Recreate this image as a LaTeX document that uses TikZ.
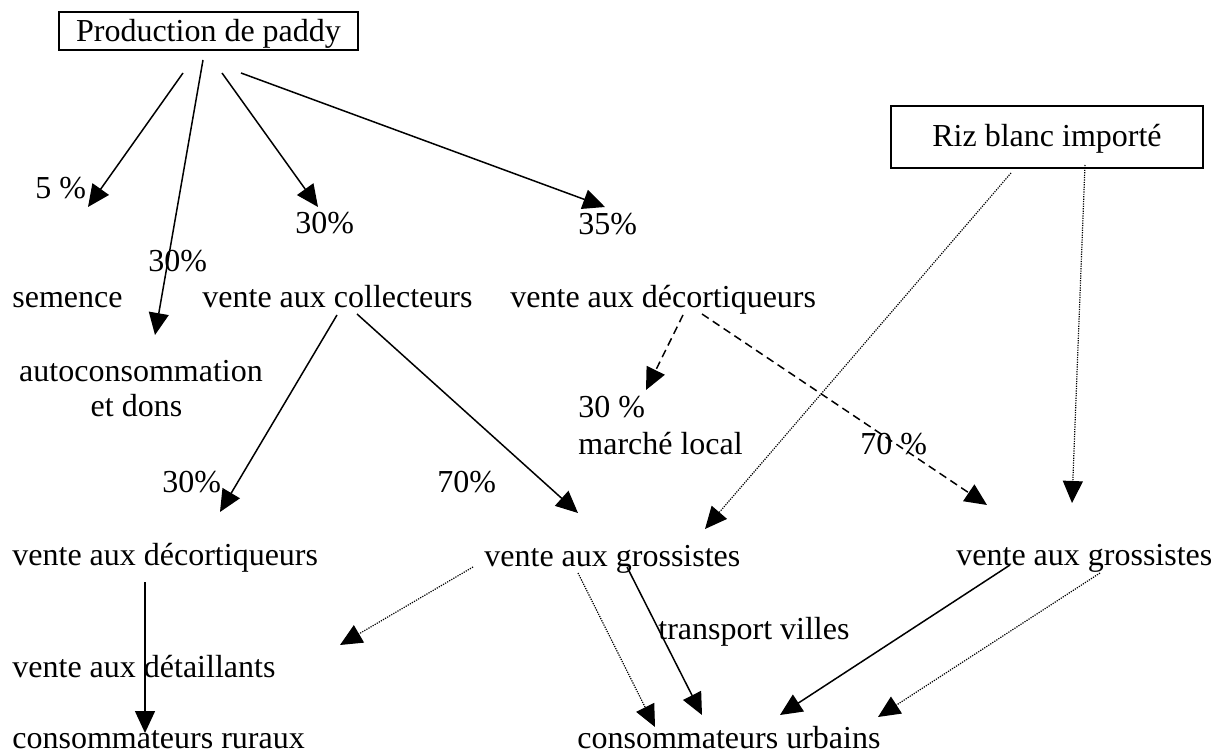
\documentclass[tikz,border=0pt]{standalone}
\usepackage{fontspec}
\setmainfont{Liberation Serif}
\usetikzlibrary{arrows.meta}

\begin{document}
\begin{tikzpicture}[x=0.5pt,y=-0.5pt,
  txt/.style={anchor=base west,inner sep=0,font=\fontsize{16}{19}\selectfont},
  box/.style={draw,line width=0.75pt,inner sep=0,font=\fontsize{16}{19}\selectfont,text height=11pt},
  flow/.style={-{Triangle[length=11pt,width=10pt]},line width=0.75pt},
  flowdash/.style={flow,dash pattern=on 4pt off 2.5pt},
  flowdot/.style={flow,line width=0.6pt,dash pattern=on 0.6pt off 0.6pt}]
\useasboundingbox (0,0) rectangle (1221,753);
\node[box,minimum width=149.5pt,minimum height=19pt,text depth=0pt] (paddy) at (208.5,31) {Production de paddy};
\node[box,minimum width=156pt,minimum height=31pt,text depth=1pt] (riz) at (1047,137) {Riz blanc importé};
\node[txt] (p5) at (35,199) {5 \%};
\node[txt] (p30col) at (295,234) {30\%};
\node[txt] (p35) at (578,235) {35\%};
\node[txt] (p30auto) at (148,272) {30\%};
\node[txt] (semence) at (12,308) {semence};
\node[txt] (collect) at (202,308) {vente aux collecteurs};
\node[txt] (decort) at (510,308) {vente aux décortiqueurs};
\node[txt,anchor=base] (autocons) at (141,382) {autoconsommation};
\node[txt,anchor=base] (dons) at (136.5,417) {et dons};
\node[txt] (p30loc) at (578,418) {30 \%};
\node[txt] (marche) at (578,455) {marché local};
\node[txt] (p70dec) at (860,455) {70 \%};
\node[txt] (p30dec) at (162,493) {30\%};
\node[txt] (p70gro) at (437,493) {70\%};
\node[txt] (decortb) at (12,565) {vente aux décortiqueurs};
\node[txt] (grossa) at (484,567) {vente aux grossistes};
\node[txt] (grossb) at (956,565) {vente aux grossistes};
\node[txt] (transport) at (658,639) {transport villes};
\node[txt] (detail) at (12,677) {vente aux détaillants};
\node[txt] (rural) at (12,748) {consommateurs ruraux};
\node[txt] (urbain) at (577,748) {consommateurs urbains};
\coordinate (paddy-a) at (183,73);
\coordinate (paddy-b) at (203,60);
\coordinate (paddy-c) at (222,73);
\coordinate (paddy-d) at (241,73);
\coordinate (semence-in) at (88,207);
\coordinate (auto-in) at (155,335);
\coordinate (collect-in) at (318,207);
\coordinate (decort-in) at (605,207);
\coordinate (collect-a) at (337,315);
\coordinate (collect-b) at (357,314);
\coordinate (decortb-in) at (220,512);
\coordinate (grossa-in) at (578,513);
\coordinate (decort-a) at (683,315);
\coordinate (decort-b) at (702,314);
\coordinate (marche-in) at (646,390);
\coordinate (grossb-in) at (987,505);
\coordinate (riz-a) at (1011,173);
\coordinate (riz-b) at (1085,165);
\coordinate (grossa-riz) at (705,529);
\coordinate (grossb-riz) at (1072,503);
\coordinate (decortb-out) at (145,582);
\coordinate (rural-in) at (145,733);
\coordinate (grossa-a) at (473,567);
\coordinate (grossa-b) at (578,573);
\coordinate (grossa-c) at (627,567);
\coordinate (detail-in) at (340,645);
\coordinate (urbain-a) at (655,727);
\coordinate (urbain-b) at (702,715);
\coordinate (urbain-c) at (780,715);
\coordinate (urbain-d) at (878,717);
\coordinate (grossb-a) at (1010,565);
\coordinate (grossb-b) at (1100,573);
\draw[flow] (paddy-a) -- (semence-in);
\draw[flow] (paddy-b) -- (auto-in);
\draw[flow] (paddy-c) -- (collect-in);
\draw[flow] (paddy-d) -- (decort-in);
\draw[flow] (collect-a) -- (decortb-in);
\draw[flow] (collect-b) -- (grossa-in);
\draw[flowdash] (decort-a) -- (marche-in);
\draw[flowdash] (decort-b) -- (grossb-in);
\draw[flowdot] (riz-a) -- (grossa-riz);
\draw[flowdot] (riz-b) -- (grossb-riz);
\draw[flow] (decortb-out) -- (rural-in);
\draw[flowdot] (grossa-a) -- (detail-in);
\draw[flowdot] (grossa-b) -- (urbain-a);
\draw[flow] (grossa-c) -- (urbain-b);
\draw[flow] (grossb-a) -- (urbain-c);
\draw[flowdot] (grossb-b) -- (urbain-d);
\end{tikzpicture}
\end{document}
